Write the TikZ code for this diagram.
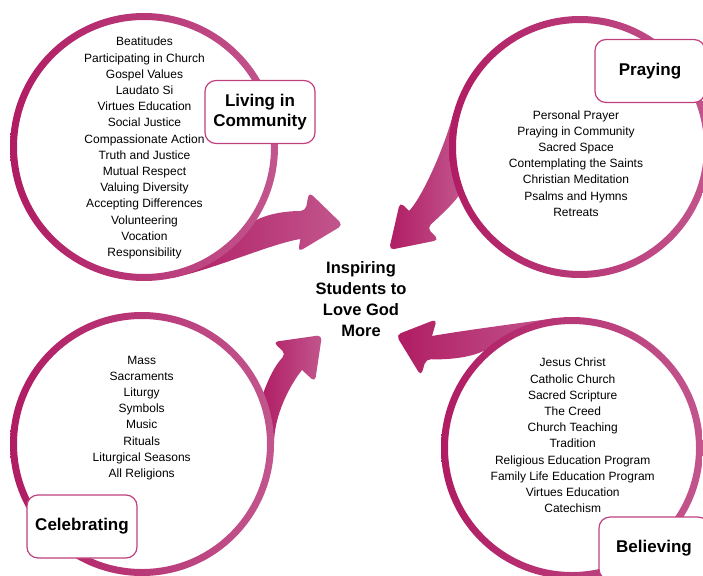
\documentclass[tikz,border=0pt]{standalone}
\usepackage{fontspec}
\setmainfont{Liberation Sans}

\definecolor{ringdark}{RGB}{176,28,99}
\definecolor{ringlight}{RGB}{194,86,141}
\definecolor{boxline}{RGB}{192,64,126}

\tikzset{
  ring/.style={left color=ringdark, right color=ringlight, even odd rule},
  bigarrow/.style={left color=ringdark, right color=ringlight},
  itemlist/.style={align=center, inner sep=0pt, font=\fontsize{12}{16.2}\selectfont},
  labelbox/.style={draw=boxline, line width=1.2pt, fill=white, rounded corners=11pt,
    minimum width=110pt, minimum height=63pt, align=center, inner sep=0pt,
    font=\bfseries\fontsize{17}{20.5}\selectfont},
  hubtext/.style={align=center, inner sep=0pt, font=\bfseries\fontsize{16.5}{21}\selectfont}
}

\begin{document}
\begin{tikzpicture}[x=1pt, y=-1pt]
\useasboundingbox (0,0) rectangle (703,575);
\clip (0,0) rectangle (703,575);

\coordinate (c1) at (144,147);
\coordinate (c2) at (580,147);
\coordinate (c3) at (572,448);
\coordinate (c4) at (142,444);

% arrows into the middle
\shade[bigarrow] (171.9,278.1) .. controls (216,268.7) and (270,244) .. (300.4,239)
  [rounded corners=5pt] -- (298,252) -- (343,225) -- (309,192) -- (305.5,211) [sharp corners]
  .. controls (285,211) and (268,214) .. (256.4,220) -- (253,217.8)
  arc[start angle=33, end angle=78, radius=130] -- cycle;
\shade[bigarrow] (453.5,113.1) .. controls (443.1,151.6) and (421,199) .. (409,211)
  [rounded corners=5pt] -- (400,202) -- (389,250) -- (439,240) -- (427,228) [sharp corners]
  .. controls (440,216) and (452,205) .. (458.5,196.1) -- (462.2,194.6)
  arc[start angle=158, end angle=195, radius=127] -- cycle;
\shade[bigarrow] (553.8,318.3) .. controls (514.2,323.9) and (460,331) .. (432,336)
  [rounded corners=5pt] -- (437,319) -- (396,335) -- (421,376) -- (426,359) [sharp corners]
  .. controls (450,360) and (472,357) .. (484.3,350.6) -- (487,353.6)
  arc[start angle=228, end angle=262, radius=127] -- cycle;
\shade[bigarrow] (274,444) .. controls (274,415) and (290,385) .. (302,370)
  [rounded corners=5pt] -- (315,382) -- (322,335) -- (273,342) -- (286,354) [sharp corners]
  .. controls (275,365) and (268,380) .. (263.5,392.4) -- (259.8,394)
  arc[start angle=337, end angle=360, radius=128] -- cycle;

% rings
\shade[ring] (c1) circle (134) (c1) circle (127);
\shade[ring] (c2) circle (131) (c2) circle (124);
\shade[ring] (c3) circle (131) (c3) circle (124);
\shade[ring] (c4) circle (132) (c4) circle (125);

% lists
\node[itemlist] (community list) at (144.5,148) {Beatitudes\\Participating in Church\\Gospel Values\\Laudato Si\\Virtues Education\\Social Justice\\Compassionate Action\\Truth and Justice\\Mutual Respect\\Valuing Diversity\\Accepting Differences\\Volunteering\\Vocation\\Responsibility};
\node[itemlist] (praying list) at (576,163.5) {Personal Prayer\\Praying in Community\\Sacred Space\\Contemplating the Saints\\Christian Meditation\\Psalms and Hymns\\Retreats};
\node[itemlist] (celebrating list) at (141.7,418) {Mass\\Sacraments\\Liturgy\\Symbols\\Music\\Rituals\\Liturgical Seasons\\All Religions};
\node[itemlist] (believing list) at (572.7,435.5) {Jesus Christ\\Catholic Church\\Sacred Scripture\\The Creed\\Church Teaching\\Tradition\\Religious Education Program\\Family Life Education Program\\Virtues Education\\Catechism};

\node[hubtext] (hub) at (361,299.5) {Inspiring\\Students to\\Love God\\More};

% labels
\node[labelbox] (community) at (260,112) {Living in\\Community};
\node[labelbox] (praying) at (650,71) {Praying};
\node[labelbox] (celebrating) at (82,526.5) {Celebrating};
\node[labelbox] (believing) at (654,548.5) {Believing};
\end{tikzpicture}
\end{document}
